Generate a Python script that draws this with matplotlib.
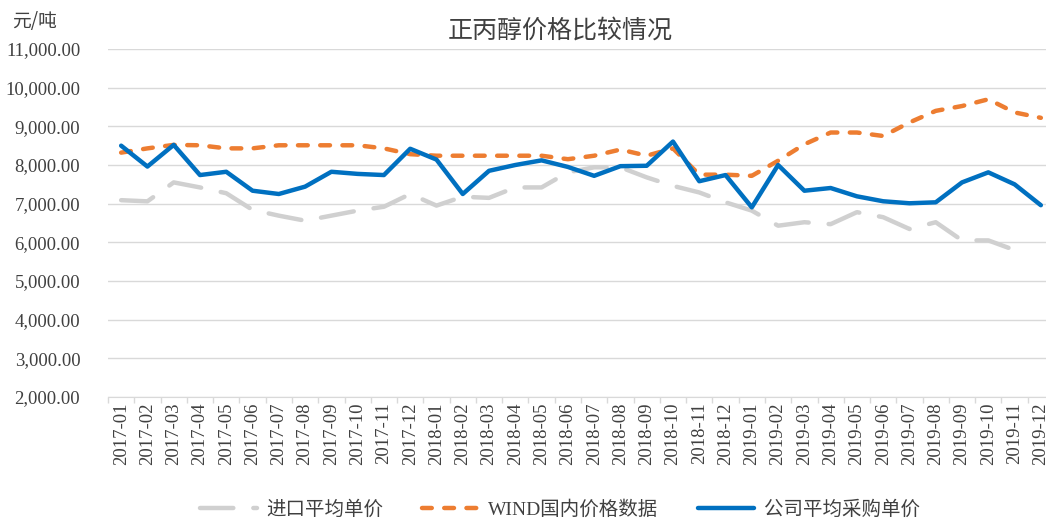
import numpy as np
import matplotlib
matplotlib.use("Agg")
import matplotlib.pyplot as plt
from matplotlib.ticker import FixedLocator, FuncFormatter

plt.rcParams['font.family'] = ['Liberation Serif', 'Noto Sans CJK SC', 'DejaVu Sans']

# months 2017-01 .. 2019-12
months = [f"{y}-{m:02d}" for y in (2017, 2018, 2019) for m in range(1, 13)]

# 进口平均单价 (import average unit price), last month has no value
import_price = [7090, 7060, 7550, 7420, 7270, 6840, 6690, 6560, 6690, 6820, 6920, 7250,
                6950, 7180, 7150, 7420, 7420, 7810, 7940, 7940, 7680, 7460, 7290, 7035,
                6820, 6430, 6520, 6470, 6780, 6650, 6345, 6520, 6050, 6050, 5800, np.nan]

# WIND国内价格数据 (domestic price)
wind_price = [8320, 8430, 8520, 8510, 8430, 8430, 8510, 8510, 8510, 8510, 8430, 8280,
              8240, 8240, 8240, 8240, 8240, 8150, 8240, 8400, 8240, 8430, 7750, 7750,
              7720, 8110, 8535, 8840, 8840, 8750, 9100, 9400, 9525, 9700, 9360, 9220]

# 公司平均采购单价 (company average purchase price)
company_price = [8500, 7960, 8520, 7740, 7825, 7335, 7250, 7440, 7825, 7770, 7740, 8420,
                 8140, 7250, 7850, 8000, 8120, 7950, 7720, 7970, 7980, 8606, 7580, 7740,
                 6905, 8000, 7335, 7405, 7190, 7062, 7010, 7035, 7550, 7810, 7500, 6960]

y_ticks = [2000, 3000, 4000, 5000, 6000, 7000, 8000, 9000, 10000, 11000]

text_color = '#404040'
grid_color = '#d9d9d9'

fig = plt.figure(figsize=(10.46, 5.2), dpi=100)
ax = fig.add_axes([108 / 1046, 123 / 520, 946 / 1046, 348 / 520])

x = np.arange(len(months))
ax.plot(x, import_price, color='#d0d0d0', lw=3.2, dashes=(7.5, 4.5),
        dash_capstyle='round', solid_capstyle='round', label='进口平均单价', zorder=2)
ax.plot(x, wind_price, color='#ED7D31', lw=3.2, dashes=(2.2, 2.8),
        dash_capstyle='round', label='WIND国内价格数据', zorder=3)
ax.plot(x, company_price, color='#0070C0', lw=3.2, solid_joinstyle='round',
        solid_capstyle='round', label='公司平均采购单价', zorder=4)

ax.set_xlim(-0.5, len(months) - 0.5)
ax.set_ylim(2000, 11000)
ax.set_yticks(y_ticks)
ax.yaxis.set_major_formatter(FuncFormatter(lambda v, p: f"{v:,.2f}"))
ax.grid(axis='y', color=grid_color, lw=1)
ax.set_axisbelow(True)

ax.set_xticks(x)
ax.set_xticklabels(months, rotation=90, fontsize=13.5, color=text_color)
ax.xaxis.set_minor_locator(FixedLocator(np.arange(-0.5, len(months), 1.0)))
ax.tick_params(axis='x', which='major', length=0, pad=4)
ax.tick_params(axis='x', which='minor', length=4, color=grid_color, width=1)
ax.tick_params(axis='y', length=0, pad=20, labelsize=13.5, labelcolor=text_color)

for s in ('left', 'right', 'top'):
    ax.spines[s].set_visible(False)
ax.spines['bottom'].set_color(grid_color)

fig.text(12 / 1046, 1 - 22 / 520, '元/吨', fontsize=13.5, color=text_color,
         ha='left', va='center', family=['Noto Sans CJK SC'])
fig.text(560 / 1046, 1 - 31 / 520, '正丙醇价格比较情况', fontsize=18, color=text_color,
         ha='center', va='center', family=['Noto Sans CJK SC'])

fig.legend(loc='center', bbox_to_anchor=(560 / 1046, 10 / 520), ncol=3, frameon=False,
           fontsize=14, handlelength=2.9, handletextpad=0.5, columnspacing=2.0,
           labelcolor=text_color)

fig.savefig('out.png', dpi=100)
